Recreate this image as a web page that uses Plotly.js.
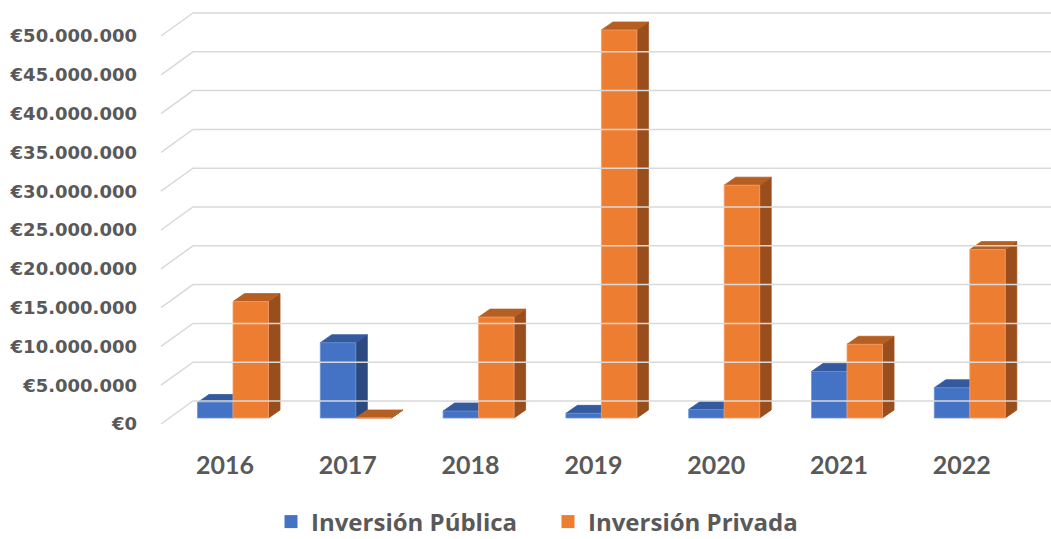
<!DOCTYPE html>
<html><head><meta charset="utf-8">
<script src="https://cdn.plot.ly/plotly-3.0.1.min.js"></script>
<style>html,body{margin:0;padding:0;background:#fff}</style>
</head><body>
<div id="chart" style="width:1051px;height:539px"></div>
<script>
// ---- data ----
const years = ['2016','2017','2018','2019','2020','2021','2022'];
const publica = [2000000, 9700000, 900000, 600000, 1100000, 6000000, 3900000];
const privada = [15000000, 0, 13000000, 50000000, 30000000, 9500000, 21700000];
const seriesNames = ['Inversión Pública','Inversión Privada'];
const yTickVals = [0,5000000,10000000,15000000,20000000,25000000,30000000,35000000,40000000,45000000,50000000];
const yTickText = yTickVals.map(v => '€' + String(v).replace(/\B(?=(\d{3})+(?!\d))/g,'.'));

// ---- geometry helpers (pixel -> data units) ----
const W = 1051, H = 539;
const M = {l:138, r:0, t:5, b:99, autoexpand:false};
const PX_PER_CAT = 122.8, PX_PER_EUR = 7.76/1e6;
const ux = p => p/PX_PER_CAT, uy = p => p/PX_PER_EUR;
const cat0px = 225, zeroPx = 418;
const plotH = H - M.t - M.b, plotW = W - M.l - M.r;
const xmin = ux(M.l - cat0px), xmax = xmin + ux(plotW);
const ymin = -uy(H - M.b - zeroPx), ymax = ymin + uy(plotH);
const frontShift = uy(6);     // front plane below bar plane
const wallDepth = uy(23);
const barDx = ux(11.5), barDy = uy(8);

const colors = {
  blue:   {front:'#4472C4', top:'#335A9E', side:'#2C4A80'},
  orange: {front:'#ED7D31', top:'#B65F22', side:'#9A4E1C'}
};

function faces(vals, x0p, x1p){
  const f={x:[],y:[]}, t={x:[],y:[]}, s={x:[],y:[]};
  vals.forEach((v,i)=>{
    const a=i+ux(x0p), b=i+ux(x1p);
    f.x.push(a,b,b,a,a,null); f.y.push(0,0,v,v,0,null);
    t.x.push(a,b,b+barDx,a+barDx,a,null); t.y.push(v,v,v+barDy,v+barDy,v,null);
    s.x.push(b,b+barDx,b+barDx,b,b,null); s.y.push(0,barDy,v+barDy,v,0,null);
  });
  return {f,t,s};
}
function poly(p,color,edge){
  return {type:'scatter',mode:'lines',x:p.x,y:p.y,fill:'toself',fillcolor:color,
    line:{color:edge||color,width:0.8},hoverinfo:'skip',showlegend:false,xaxis:'x',yaxis:'y'};
}

// gridlines on the front-plane axis (y2)
const gx=[], gy=[];
const xF = ux(161-cat0px), xB = ux(193-cat0px);
yTickVals.forEach(v=>{ gx.push(xF,xB,xmax,null); gy.push(v,v+wallDepth,v+wallDepth,null); });
const grid = {type:'scatter',mode:'lines',x:gx,y:gy,line:{color:'#D9D9D9',width:1.5},
  hoverinfo:'skip',showlegend:false,xaxis:'x',yaxis:'y2'};

const pb = faces(publica,-27.5,8), po = faces(privada,8,43.5);
const traces = [grid,
  poly(pb.s,colors.blue.side), poly(pb.t,colors.blue.top), poly(pb.f,colors.blue.front,'#6F93D3'),
  poly(po.s,colors.orange.side), poly(po.t,colors.orange.top), poly(po.f,colors.orange.front,'#F3A070'),
  {type:'scatter',mode:'markers',x:[null],y:[null],name:seriesNames[0],marker:{symbol:'square',size:13,color:colors.blue.front},hoverinfo:'skip'},
  {type:'scatter',mode:'markers',x:[null],y:[null],name:seriesNames[1],marker:{symbol:'square',size:13,color:colors.orange.front},hoverinfo:'skip'}
];

const layout = {
  width:W, height:H, margin:M, paper_bgcolor:'#fff', plot_bgcolor:'#fff',
  showlegend:true,
  xaxis:{range:[xmin,xmax],tickmode:'array',tickvals:years.map((_,i)=>i),ticktext:years,
    showgrid:false,zeroline:false,showline:false,ticks:'',ticklabelstandoff:8,automargin:false,
    tickfont:{family:'Lato',size:25,color:'#595959',weight:'bold'},fixedrange:true},
  yaxis:{range:[ymin,ymax],showgrid:false,zeroline:false,showline:false,showticklabels:false,ticks:'',fixedrange:true},
  yaxis2:{range:[ymin+frontShift,ymax+frontShift],overlaying:'y',side:'left',anchor:'x',automargin:false,
    tickmode:'array',tickvals:yTickVals,ticktext:yTickText,
    showgrid:false,zeroline:false,showline:false,ticks:'',
    tickfont:{family:'DejaVu Sans',size:18,color:'#595959',weight:'bold'},fixedrange:true},
  legend:{orientation:'h',x:(548-M.l)/plotW,xanchor:'center',y:(H-M.b-522)/plotH,yanchor:'middle',
    entrywidth:232, maxheight:1,
    font:{family:'Open Sans',size:24,color:'#595959',weight:'bold'},itemclick:false,itemdoubleclick:false}
};
Plotly.newPlot('chart',traces,layout,{displayModeBar:false,staticPlot:true});
</script>
</body></html>
